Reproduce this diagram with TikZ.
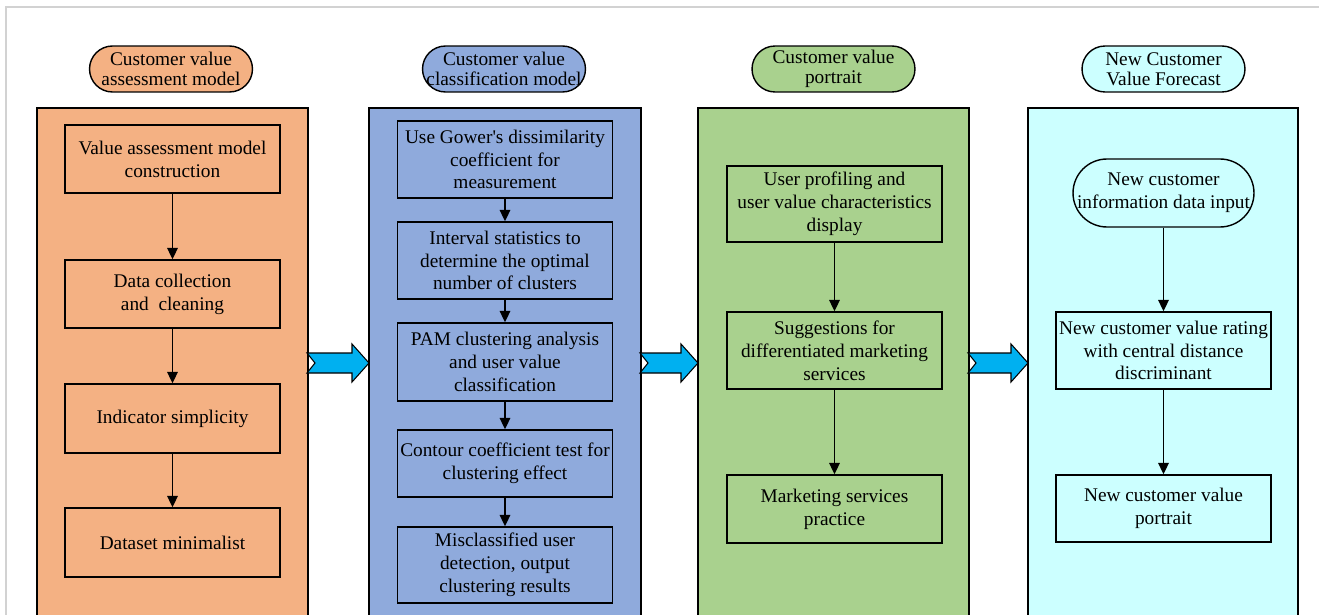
\documentclass[tikz,border=0pt]{standalone}
\usepackage{fontspec}
\setmainfont{Liberation Serif}
\usetikzlibrary{arrows.meta,positioning,calc}
\definecolor{assessorange}{RGB}{244,177,131}
\definecolor{classblue}{RGB}{143,170,220}
\definecolor{portraitgreen}{RGB}{169,209,142}
\definecolor{forecastcyan}{RGB}{204,255,255}
\definecolor{flowblue}{RGB}{0,176,240}
\tikzset{
  stage/.style={draw,line width=0.8pt,rounded corners=0.46cm,minimum width=3.26cm,
    minimum height=0.92cm,align=center,inner sep=0pt,font=\fontsize{11}{11.5}\selectfont},
  stepbox/.style={draw,line width=0.8pt,minimum width=4.3cm,align=center,inner xsep=1pt,
    font=\fontsize{11}{13}\selectfont},
  flow/.style={-{Triangle[length=6.5pt,width=6pt]},line width=0.9pt},
}

\begin{document}
\begin{tikzpicture}[x=0.02cm,y=-0.02cm]
  \useasboundingbox (0,0) rectangle (1319,615);
  \clip (0,0) rectangle (1319,615);
  \draw[gray!35,line width=0.6pt] (6,620) -- (6,7) -- (1325,7);
  % ---------- the four stage panels ----------
  \foreach \xa/\xb/\col in {37/308/assessorange,369/641/classblue,698/969/portraitgreen,1028/1298/forecastcyan}
    {\draw[fill=\col,line width=0.8pt] (\xa,630) rectangle (\xb,108);}
  % ---------- block arrows between the panels ----------
  \foreach \a/\b in {308/369,641/698,969/1028}
    {\draw[fill=flowblue,line width=0.6pt] (\a-1,353) -- (\b-17,353) -- (\b-17,344) -- (\b,363)
       -- (\b-17,382) -- (\b-17,373) -- (\a-1,373) -- (\a+7,363) -- cycle;}
  % ---------- column 1: assessment ----------
  \node[stage,fill=assessorange] (t1) at (171,69) {Customer value\\assessment model};
  \node[stepbox,minimum height=1.36cm] (a1) at (172.5,159) {Value assessment model\\construction};
  \node[stepbox,minimum height=1.36cm] (a2) at (172.5,294) {Data collection\\and\ \ cleaning};
  \node[stepbox,minimum height=1.38cm] (a3) at (172.5,418.5) {Indicator simplicity};
  \node[stepbox,minimum height=1.38cm] (a4) at (172.5,542.5) {Dataset minimalist};
  \draw[flow] (a1) -- (a2);
  \draw[flow] (a2) -- (a3);
  \draw[flow] (a3) -- (a4);
  % ---------- column 2: classification ----------
  \node[stage,fill=classblue] (t2) at (504,69) {Customer value\\classification model};
  \node[stepbox,minimum height=1.54cm] (b1) at (505,159.5) {Use Gower\textquotesingle s dissimilarity\\coefficient for\\measurement};
  \node[stepbox,minimum height=1.54cm] (b2) at (505,260.5) {Interval statistics to\\determine the optimal\\number of clusters};
  \node[stepbox,minimum height=1.56cm] (b3) at (505,362) {PAM clustering analysis\\and user value\\classification};
  \node[stepbox,minimum height=1.34cm] (b4) at (505,463.5) {Contour coefficient test for\\clustering effect};
  \node[stepbox,minimum height=1.52cm] (b5) at (505,565) {Misclassified user\\detection, output\\clustering results};
  \foreach \u/\v in {b1/b2,b2/b3,b3/b4,b4/b5}
    \draw[flow] (\u) -- (\v);
  % ---------- column 3: portrait ----------
  \node[stage,fill=portraitgreen] (t3) at (833.5,69) {Customer value\\portrait};
  \node[stepbox,minimum height=1.52cm] (c1) at (834.5,204) {User profiling and\\user value characteristics\\display};
  \node[stepbox,minimum height=1.54cm] (c2) at (834.5,350.5) {Suggestions for\\differentiated marketing\\services};
  \node[stepbox,minimum height=1.36cm] (c3) at (834.5,509) {Marketing services\\practice};
  \draw[flow] (c1) -- (c2);
  \draw[flow] (c2) -- (c3);
  % ---------- column 4: forecast ----------
  \node[stage,fill=forecastcyan] (t4) at (1163.5,69) {New Customer\\Value Forecast};
  \node[stepbox,rounded corners=0.68cm,minimum width=3.62cm,minimum height=1.36cm] (d1)
    at (1163.5,193) {New customer\\information data input};
  \node[stepbox,minimum height=1.54cm] (d2) at (1163.5,350.5) {New customer value rating\\with central distance\\discriminant};
  \node[stepbox,minimum height=1.34cm] (d3) at (1163.5,508.5) {New customer value\\portrait};
  \draw[flow] (d1) -- (d2);
  \draw[flow] (d2) -- (d3);
\end{tikzpicture}
\end{document}
